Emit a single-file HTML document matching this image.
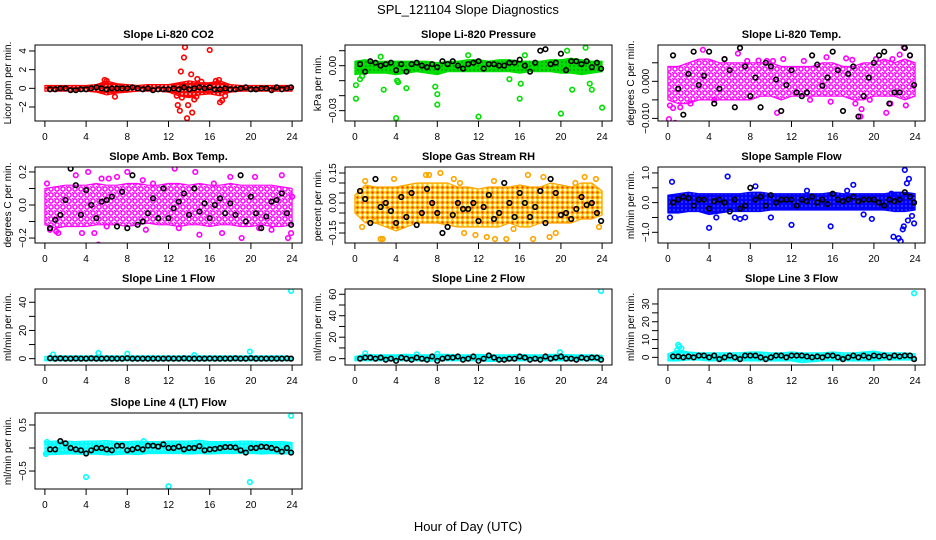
<!DOCTYPE html>
<html><head><meta charset="utf-8"><style>
body{margin:0;background:#fff;}
svg{display:block;font-family:"Liberation Sans",sans-serif;}
</style></head><body>
<svg id="chart" width="936" height="540" viewBox="0 0 936 540">
<defs>
<pattern id="p-red" width="4" height="4" patternUnits="userSpaceOnUse"><rect width="4" height="4" fill="#ff0000"/><circle cx="2" cy="2" r="0.9" fill="#fff"/></pattern>
<pattern id="p-green" width="4" height="4" patternUnits="userSpaceOnUse"><rect width="4" height="4" fill="#00e000"/><circle cx="2" cy="2" r="0.8" fill="#000" opacity="0.45"/></pattern>
<pattern id="p-mag" width="6" height="6" patternUnits="userSpaceOnUse"><rect width="6" height="6" fill="#fff"/><circle cx="3" cy="3" r="2.1" fill="none" stroke="#ff00ff" stroke-width="1.5"/><circle cx="0" cy="0" r="1.2" fill="#ff00ff"/></pattern>
<pattern id="p-rh" width="5" height="5" patternUnits="userSpaceOnUse"><rect width="5" height="5" fill="#fff"/><circle cx="2.5" cy="2.5" r="1.8" fill="#ff3000" stroke="#ffc800" stroke-width="1.3"/></pattern>
<pattern id="p-blue" width="4" height="4" patternUnits="userSpaceOnUse"><rect width="4" height="4" fill="#0000ff"/><circle cx="2" cy="2" r="0.6" fill="#fff" opacity="0.6"/></pattern>
<pattern id="p-cyan" width="4" height="4" patternUnits="userSpaceOnUse"><rect width="4" height="4" fill="#00ffff"/><circle cx="2" cy="2" r="0.6" fill="#fff"/></pattern>
</defs>
<text x="468" y="14" text-anchor="middle" font-size="13">SPL_121104  Slope Diagnostics</text>
<text x="468" y="531" text-anchor="middle" font-size="13">Hour of Day (UTC)</text>
<g id="panels"></g>
</svg>
<script>
const bandHours=[0,1,2,3,4,5,6,7,8,9,10,11,12,13,14,15,16,17,18,19,20,21,22,23,24];
const meanHours=[0.5,1,1.5,2,2.5,3,3.5,4,4.5,5,5.5,6,6.5,7,7.5,8,8.5,9,9.5,10,10.5,11,11.5,12,12.5,13,13.5,14,14.5,15,15.5,16,16.5,17,17.5,18,18.5,19,19.5,20,20.5,21,21.5,22,22.5,23,23.5,23.9];
const xTicks=[0,4,8,12,16,20,24];

const co2Lo=[-0.3,-0.3,-0.3,-0.3,-0.3,-0.4,-0.7,-0.5,-0.4,-0.3,-0.3,-0.3,-0.4,-0.8,-1.0,-0.7,-0.6,-0.8,-0.4,-0.3,-0.3,-0.3,-0.3,-0.3,-0.3];
const co2Hi=[0.3,0.3,0.3,0.3,0.3,0.4,0.8,0.5,0.4,0.3,0.4,0.4,0.4,0.6,0.8,0.6,0.6,0.8,0.4,0.3,0.3,0.3,0.3,0.3,0.3];
const co2PtX=[6.8,12.9,13.1,13.2,13.5,13.6,13.8,13.9,14.2,14.3,14.5,14.8,15.2,16.0,16.6,16.9,17.0,17.2,17.5,12.8,13.3,14.7,5.8,6.0];
const co2PtY=[-0.9,-1.8,-2.4,1.8,3.3,4.4,-3.2,-1.8,1.5,-2.6,-1.2,1.0,0.7,4.1,0.8,0.9,-1.5,-1.3,-0.8,-0.8,-1.0,-0.9,0.9,0.8];
const co2Mean=[-0.1,-0.1,0,0,-0.2,-0.2,-0.1,-0.1,0,0.1,0,-0.1,0,0,0,0,0.1,0,-0.1,0,-0.2,-0.1,-0.1,-0.1,0,-0.1,0.1,-0.1,0,0.1,0,0.1,-0.1,-0.1,0,-0.1,-0.1,0,0.1,-0.1,-0.1,0,0,-0.2,0.1,-0.1,0,0.1];

const prLo=[-0.006,-0.005,-0.005,-0.005,-0.006,-0.005,-0.004,-0.005,-0.006,-0.004,-0.004,-0.004,-0.004,-0.004,-0.004,-0.004,-0.005,-0.004,-0.004,-0.004,-0.005,-0.005,-0.006,-0.005,-0.004];
const prHi=[0.003,0.004,0.003,0.003,0.003,0.003,0.003,0.003,0.002,0.003,0.003,0.004,0.004,0.003,0.004,0.004,0.003,0.003,0.003,0.004,0.004,0.005,0.004,0.003,0.003];
const prPtX=[0.1,0.1,0.5,0.7,2.8,4.0,4.2,5.0,7.8,8.0,8.0,12.0,16.0,16.1,20.0,21.1,22.8,23.0,24.0,20.6,22.4,16.5,11.0,2.5,15.0,4.1];
const prPtY=[-0.013,-0.022,-0.009,-0.007,-0.016,-0.035,-0.011,-0.015,-0.014,-0.019,-0.026,-0.034,-0.022,-0.012,-0.032,-0.016,-0.012,-0.016,-0.028,0.010,0.012,0.007,0.007,0.006,-0.009,-0.01];
const prMean=[0.001,-0.004,0.003,0.002,0,0.001,0.002,-0.003,0.001,-0.004,0.001,0.002,0,-0.001,0.001,-0.001,0.003,0.001,0.003,0,-0.002,0.001,0.002,0.003,-0.002,0.001,0.001,0,0,0.002,0.002,0.004,0,-0.004,0.002,0.010,0.011,0.001,0.002,0.008,-0.003,0.003,0.003,0.001,0.003,-0.001,0.002,-0.002];

const tpLo=[-0.005,-0.006,-0.006,-0.005,-0.005,-0.005,-0.005,-0.005,-0.005,-0.004,-0.004,-0.005,-0.004,-0.004,-0.004,-0.004,-0.004,-0.004,-0.005,-0.005,-0.004,-0.004,-0.004,-0.005,-0.004];
const tpHi=[0.004,0.004,0.005,0.006,0.006,0.005,0.005,0.005,0.005,0.005,0.005,0.004,0.004,0.004,0.004,0.005,0.005,0.004,0.004,0.005,0.005,0.006,0.005,0.006,0.005];
const tpPtX=[0.1,0.7,0.2,0.5,3.4,6.8,7.7,8.8,9.6,10.2,10.6,13.2,15.4,15.8,17.3,17.9,18.2,18.7,18.8,19.6,21.2,21.6,22.5,22.9,23.1,1.2,2.2,4.5,5.5,11.2,13.8,20.2,21.8,23.5];
const tpPtY=[-0.0102,-0.0112,-0.0065,-0.0072,0.0085,0.0075,0.0055,0.0056,0.0055,0.0055,-0.0085,0.0055,0.0065,-0.0055,0.0062,0.0058,-0.006,-0.0095,-0.0075,-0.005,-0.0085,-0.006,0.0072,0.0092,-0.0065,-0.007,-0.006,-0.005,0.006,0.006,-0.005,0.006,0.006,0.007];
const tpMean=[0.007,-0.002,-0.009,0.002,0.008,-0.001,0.0015,0.008,-0.006,-0.002,0.006,0.003,-0.007,0.009,0.004,-0.004,0.001,-0.007,0.005,0.004,0.0005,-0.008,-0.001,0.003,-0.003,-0.004,-0.003,0.007,0.0045,-0.0012,0.001,0.008,0.003,-0.008,0.002,0.004,-0.0095,-0.004,0.001,0.005,0.007,0.008,-0.006,-0.003,-0.003,0.009,0.007,-0.001];

const amLo=[-0.12,-0.14,-0.13,-0.13,-0.13,-0.12,-0.12,-0.12,-0.13,-0.12,-0.11,-0.12,-0.12,-0.13,-0.12,-0.12,-0.13,-0.12,-0.12,-0.13,-0.13,-0.12,-0.13,-0.13,-0.12];
const amHi=[0.1,0.11,0.12,0.12,0.12,0.13,0.12,0.12,0.13,0.13,0.12,0.12,0.13,0.13,0.12,0.13,0.12,0.12,0.13,0.12,0.12,0.12,0.12,0.11,0.1];
const amPtX=[0.2,0.5,1.1,1.3,3.0,3.6,4.2,4.8,5.2,5.5,6.0,6.2,7.0,8.0,9.5,9.8,10.5,12.6,13.0,13.6,14.6,15.0,16.4,17.2,18.0,19.1,20.4,20.8,22.0,23.0,23.6,23.9,24.0];
const amPtY=[0.13,-0.15,-0.16,-0.17,0.18,-0.17,0.2,-0.17,-0.24,0.16,-0.13,0.16,0.17,0.2,0.15,-0.15,0.13,0.22,-0.14,0.25,0.2,-0.18,0.13,-0.17,0.17,-0.2,0.17,-0.14,-0.15,0.18,-0.2,-0.17,0.05];
const amMean=[-0.14,-0.09,-0.06,0.03,0.22,0.12,-0.06,0.09,0,-0.08,0.02,0.03,0.05,-0.13,0.08,-0.14,0.18,-0.12,-0.1,-0.05,0.04,-0.08,0.1,-0.08,-0.02,0.02,0.07,-0.06,0.1,-0.04,0.01,-0.08,0,0.04,-0.05,0.01,-0.06,0.18,-0.1,0.05,-0.05,-0.14,-0.07,0.02,0.03,0.07,-0.05,-0.12];

const rhLo=[-0.05,-0.1,-0.1,-0.12,-0.14,-0.12,-0.1,-0.1,-0.1,-0.11,-0.12,-0.12,-0.12,-0.12,-0.12,-0.1,-0.12,-0.12,-0.1,-0.1,-0.1,-0.1,-0.08,-0.08,-0.06];
const rhHi=[0.04,0.09,0.08,0.08,0.08,0.09,0.1,0.1,0.1,0.1,0.08,0.08,0.07,0.08,0.08,0.08,0.09,0.08,0.08,0.1,0.09,0.08,0.1,0.1,0.06];
const rhPtX=[0.7,2.0,2.5,2.7,4.3,4.5,5.4,6.4,6.9,7.2,8.3,9.6,10.2,10.6,11.7,12.8,13.6,14.7,15.4,16.8,17.3,18.3,18.9,19.5,21.4,22.3,23.4,23.7,1.0,3.8,13.5];
const rhPtY=[-0.12,-0.09,-0.18,-0.18,-0.22,-0.22,-0.23,-0.25,0.14,0.14,0.15,0.12,0.1,-0.15,-0.16,-0.17,-0.18,-0.18,-0.13,0.14,-0.18,0.13,-0.17,-0.15,0.1,0.13,0.12,-0.12,0.11,0.12,0.11];
const rhMean=[0.06,0.02,-0.1,0.12,-0.02,0,-0.04,-0.1,0.03,-0.07,0.05,-0.11,-0.05,0.07,0,-0.05,-0.15,-0.12,-0.06,0,-0.03,-0.03,0,-0.09,-0.02,0.04,-0.08,-0.05,0.1,0,-0.07,0.05,0,-0.07,-0.02,0.06,-0.1,0.12,0.05,-0.06,-0.05,-0.08,-0.03,0.03,-0.01,0,-0.05,-0.09];

const sfLo=[-0.35,-0.35,-0.3,-0.3,-0.4,-0.35,-0.3,-0.3,-0.3,-0.3,-0.25,-0.25,-0.25,-0.25,-0.25,-0.25,-0.25,-0.25,-0.25,-0.25,-0.25,-0.25,-0.3,-0.3,-0.25];
const sfHi=[0.25,0.3,0.35,0.3,0.3,0.3,0.3,0.3,0.35,0.35,0.3,0.3,0.3,0.3,0.3,0.3,0.35,0.3,0.3,0.3,0.3,0.3,0.35,0.35,0.3];
const sfPtX=[0.2,0.4,4.0,4.7,5.8,6.5,7.0,7.5,8.5,10.0,12.0,13.5,15.8,17.4,18.0,19.0,19.8,21.9,22.4,22.6,22.8,23.0,23.2,23.4,23.7,23.9,22.9,23.3,21.7];
const sfPtY=[-0.5,0.7,-0.85,-0.5,0.88,-0.5,-0.55,-0.5,0.55,-0.5,-0.75,0.4,-0.8,0.4,0.6,-0.4,-0.55,-1.15,-1.2,-1.3,-0.9,1.1,0.65,0.8,-0.45,-0.7,-0.8,-0.6,0.3];
const sfMean=[0,0.1,0.2,0.15,-0.1,0.1,0.1,-0.2,0.05,0.1,0,-0.3,0.1,-0.2,-0.1,0.5,0.1,0.2,-0.1,0.25,0,0.1,0.1,0.1,-0.1,0.1,0.05,0.2,0,0.1,-0.05,0.3,0.1,0.05,0.1,0.2,0.05,0.1,0.1,0.1,0,-0.1,0.1,0.05,0.1,0.35,0.2,0];

const l1Lo=[-1.5,-1.5,-1.5,-1.5,-1.5,-1.5,-1.5,-1.5,-1.5,-1.5,-1.5,-1.5,-1.5,-1.5,-1.5,-1.5,-1.5,-1.5,-1.5,-1.5,-1.5,-1.5,-1.5,-1.5,-1.5];
const l1Hi=[1.5,2,2,2,2,2,2,2,2,2,2,2,2,2,2,2,2,2,2,2,2,2,2,2,1.5];
const l1PtX=[23.9,19.9,5.2,8.0,0.8,14.5];
const l1PtY=[48,5,4,3.5,3,2.5];
const l1Mean=[0.3,0,0.2,0,0,0.1,0,0,0.2,0,0,0.1,0,0,0,0.3,0,0,0,0,0,0,0,0.1,0,0,0.2,0,0,0,0,0.1,0,0,0,0,0.2,0,0,0.3,0,0,0,0,0,0,0.2,0];

const l2Lo=[-2,-2,-2,-2,-2,-2,-2,-2.5,-2,-2,-2,-2,-2,-2.5,-2.5,-2,-2,-2,-2,-2,-2,-2,-2,-2,-2];
const l2Hi=[2,4,3.5,3.5,3.5,4,3.5,3.5,4,4,3.5,3.5,4,3.5,3.5,3.5,4,3.5,3.5,4,4,3.5,3.5,3.5,3];
const l2PtX=[23.9,19.9,1.0,6.0,8.0];
const l2PtY=[63,6,5,4,4.5];
const l2Mean=[0,1,1,0,1,-1,0,-2,1,0,-1,1,0,-1,2,-2,0,1,1,2,-1,0,2,-2,0,3,1,-1,-1,0,0,2,1,-1,0,-1,2,0,1,2,0,0,-1,1,0,1,1,-1];

const l3Lo=[-2,-2,-1.5,-1.5,-2,-2,-2,-2,-2,-2,-2,-2,-2,-3,-2.5,-2,-2,-2,-2,-2,-2,-1.5,-1.5,-1.5,-1.5];
const l3Hi=[2,4,3,2.5,2.5,2.5,2.5,2.5,3,3,2.5,2.5,3,2.5,2.5,2.5,3,2.5,2.5,3,3.5,2.5,2.5,2.5,2];
const l3PtX=[23.9,1.0,1.1,1.3,0.9];
const l3PtY=[36,7,6,5,4];
const l3Mean=[0.5,0.5,0,0.5,0,1,1,0,1,-1,0,1,0,-1,1,1,1,0,-1,0,1,1,0,1,1,1,0.5,0,0.5,0,1,1,0,-1,0,1,0,1,0,1,0.5,1,0,1,0.5,1,1,-1];

const l4Lo=[-0.14,-0.14,-0.13,-0.13,-0.14,-0.13,-0.15,-0.14,-0.13,-0.14,-0.12,-0.12,-0.12,-0.12,-0.13,-0.12,-0.13,-0.12,-0.12,-0.12,-0.12,-0.13,-0.12,-0.13,-0.12];
const l4Hi=[0.14,0.15,0.15,0.14,0.15,0.15,0.16,0.14,0.14,0.15,0.14,0.14,0.15,0.15,0.15,0.17,0.14,0.14,0.14,0.15,0.15,0.14,0.14,0.14,0.12];
const l4PtX=[23.9,4.0,12.0,19.9,0.1,0.2,9.6];
const l4PtY=[0.7,-0.63,-0.83,-0.74,-0.13,0.13,0.15];
const l4Mean=[-0.03,-0.03,0.15,0.1,0,-0.03,-0.05,-0.12,-0.05,0,0,-0.03,-0.05,0.05,0.05,-0.05,-0.03,0,-0.03,0.05,0.05,0.03,0.08,0,0,0.03,-0.03,0,0,0.04,-0.05,-0.03,-0.02,0,0.02,0.02,0.01,-0.05,-0.1,0,0,0.03,0.02,0,-0.03,-0.08,0,-0.1];

const NS='http://www.w3.org/2000/svg';
const root=document.getElementById('panels');
function mk(tag,attrs,parent){const e=document.createElementNS(NS,tag);for(const k in attrs)e.setAttribute(k,attrs[k]);(parent||root).appendChild(e);return e;}

const panels=[
 {key:'co2',title:'Slope Li-820 CO2',ylab:'Licor ppm per min.',col:0,row:0,ymin:-3.5,ymax:4.64,ticks:[-2,0,2,4],labs:['−2','0','2','4'],color:'#ff0000',pat:'p-red',lo:co2Lo,hi:co2Hi,px:co2PtX,py:co2PtY,mean:co2Mean},
 {key:'pressure',title:'Slope Li-820 Pressure',ylab:'kPa per min.',col:1,row:0,ymin:-0.0369,ymax:0.0138,ticks:[-0.03,-0.02,-0.01,0,0.01],labs:['−0.03','','','0.00',''],color:'#00e000',pat:'p-green',lo:prLo,hi:prHi,px:prPtX,py:prPtY,mean:prMean},
 {key:'li820-temp',title:'Slope Li-820 Temp.',ylab:'degrees C per min.',col:2,row:0,ymin:-0.0107,ymax:0.0098,ticks:[-0.01,-0.005,0,0.005],labs:['−0.010','','0.000',''],color:'#ff00ff',pat:'p-mag',lo:tpLo,hi:tpHi,px:tpPtX,py:tpPtY,mean:tpMean},
 {key:'amb-temp',title:'Slope Amb. Box Temp.',ylab:'degrees C per min.',col:0,row:1,ymin:-0.23,ymax:0.23,ticks:[-0.2,-0.1,0,0.1,0.2],labs:['−0.2','','0.0','','0.2'],color:'#ff00ff',pat:'p-mag',lo:amLo,hi:amHi,px:amPtX,py:amPtY,mean:amMean},
 {key:'rh',title:'Slope Gas Stream RH',ylab:'percent per min.',col:1,row:1,ymin:-0.2,ymax:0.18,ticks:[-0.15,-0.1,-0.05,0,0.05,0.1,0.15],labs:['−0.15','','','0.00','','','0.15'],color:'#ffa500',pat:'p-rh',lo:rhLo,hi:rhHi,px:rhPtX,py:rhPtY,mean:rhMean},
 {key:'sample-flow',title:'Slope Sample Flow',ylab:'ml/min per min.',col:2,row:1,ymin:-1.36,ymax:1.2,ticks:[-1,-0.5,0,0.5,1],labs:['−1.0','','0.0','','1.0'],color:'#0000ff',pat:'p-blue',lo:sfLo,hi:sfHi,px:sfPtX,py:sfPtY,mean:sfMean},
 {key:'line1-flow',title:'Slope Line 1 Flow',ylab:'ml/min per min.',col:0,row:2,ymin:-4.5,ymax:49.4,ticks:[0,10,20,30,40],labs:['0','','20','','40'],color:'#00ffff',pat:'p-cyan',lo:l1Lo,hi:l1Hi,px:l1PtX,py:l1PtY,mean:l1Mean},
 {key:'line2-flow',title:'Slope Line 2 Flow',ylab:'ml/min per min.',col:1,row:2,ymin:-5.9,ymax:64.9,ticks:[0,10,20,30,40,50,60],labs:['0','','20','','40','','60'],color:'#00ffff',pat:'p-cyan',lo:l2Lo,hi:l2Hi,px:l2PtX,py:l2PtY,mean:l2Mean},
 {key:'line3-flow',title:'Slope Line 3 Flow',ylab:'ml/min per min.',col:2,row:2,ymin:-4.3,ymax:38.4,ticks:[0,5,10,15,20,25,30],labs:['0','','10','','20','','30'],color:'#00ffff',pat:'p-cyan',lo:l3Lo,hi:l3Hi,px:l3PtX,py:l3PtY,mean:l3Mean},
 {key:'line4-flow',title:'Slope Line 4 (LT) Flow',ylab:'ml/min per min.',col:0,row:3,ymin:-0.89,ymax:0.76,ticks:[-0.5,0,0.5],labs:['−0.5','','0.5'],color:'#00ffff',pat:'p-cyan',lo:l4Lo,hi:l4Hi,px:l4PtX,py:l4PtY,mean:l4Mean}
];
const colLeft=[35,345,658], rowTop=[45,167,289,413], W=267, H=76;

panels.forEach(p=>{
 const L=colLeft[p.col], T=rowTop[p.row], B=T+H, R=L+W;
 const g=mk('g',{});
 
 
 const xs=h=>L+(h+0.96)/25.92*W;
 const ys=v=>B-(v-p.ymin)/(p.ymax-p.ymin)*H;
 const clipId='clip-'+p.key;
 const cp=mk('clipPath',{id:clipId},g); mk('rect',{x:L,y:T,width:W,height:H},cp);
 const data=mk('g',{'clip-path':'url(#'+clipId+')'},g);
 let d='';
 bandHours.forEach((h,i)=>{d+=(i?'L':'M')+xs(h).toFixed(1)+','+ys(p.hi[i]).toFixed(1);});
 for(let i=bandHours.length-1;i>=0;i--)d+='L'+xs(bandHours[i]).toFixed(1)+','+ys(p.lo[i]).toFixed(1);
 const band=mk('path',{d:d+'Z',fill:'url(#'+p.pat+')',stroke:p.color,'stroke-width':1.2,'stroke-linejoin':'round'},data);
 
 
 p.px.forEach((h,i)=>{
  const c=mk('circle',{cx:xs(h),cy:ys(p.py[i]),r:2.3,fill:'none',stroke:p.color,'stroke-width':1.6},data);
  
  
 });
 meanHours.forEach((h,i)=>{
  const c=mk('circle',{cx:xs(h),cy:ys(p.mean[i]),r:2.3,fill:'none',stroke:'#000','stroke-width':1.6},data);
  
  
 });
 const box=mk('rect',{x:L,y:T,width:W,height:H,fill:'none',stroke:'#000','stroke-width':1},g);
 
 
 const t=mk('text',{x:L+W/2,y:T-7,'text-anchor':'middle','font-size':11,'font-weight':'bold'},g);
 t.textContent=p.title;
 
 
 const yl=mk('text',{transform:'translate('+(L-24)+','+(T+H/2)+') rotate(-90)','text-anchor':'middle','font-size':10},g);
 yl.textContent=p.ylab;
 
 
 mk('line',{x1:xs(0),x2:xs(24),y1:B,y2:B,stroke:'#000'},g);
 xTicks.forEach(h=>{
  mk('line',{x1:xs(h),x2:xs(h),y1:B,y2:B+6,stroke:'#000'},g);
  const tl=mk('text',{x:xs(h),y:B+19,'text-anchor':'middle','font-size':10},g);
  tl.textContent=h;
  
  
 });
 p.ticks.forEach((v,i)=>{
  mk('line',{x1:L-6,x2:L,y1:ys(v),y2:ys(v),stroke:'#000'},g);
  if(p.labs[i]){
   const tl=mk('text',{transform:'translate('+(L-9)+','+ys(v)+') rotate(-90)','text-anchor':'middle','font-size':10},g);
   tl.textContent=p.labs[i];
   
   
  }
 });
});
</script>
</body></html>
